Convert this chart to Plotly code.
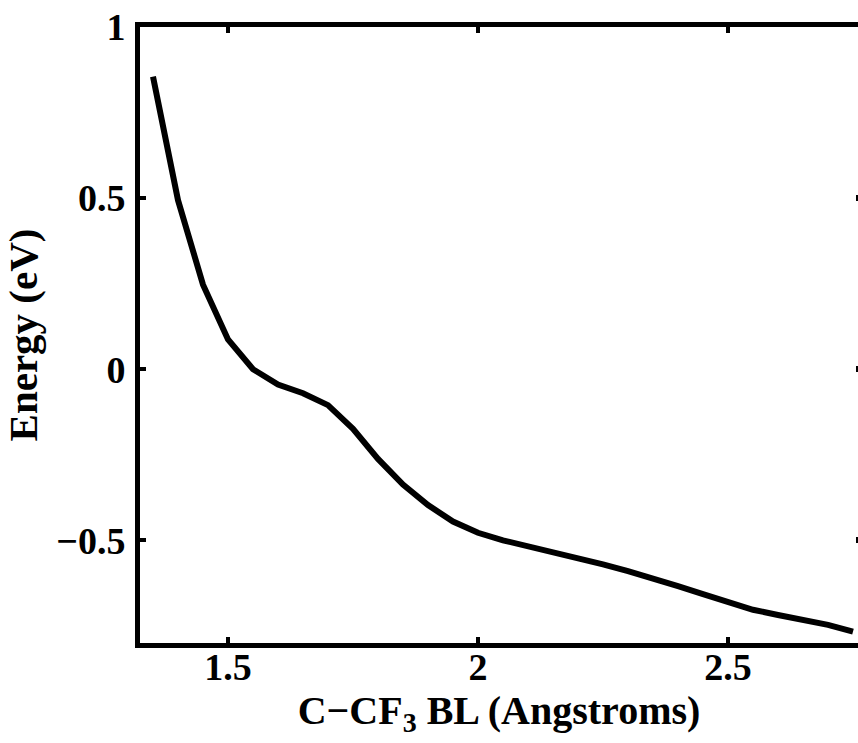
import plotly.graph_objects as go

bond_length = [1.35, 1.40, 1.45, 1.50, 1.55, 1.60, 1.65, 1.70, 1.75, 1.80,
               1.85, 1.90, 1.95, 2.00, 2.05, 2.10, 2.15, 2.20, 2.25, 2.30,
               2.35, 2.40, 2.45, 2.50, 2.55, 2.60, 2.65, 2.70, 2.75]
energy = [0.855, 0.494, 0.247, 0.087, 0.000, -0.045, -0.070, -0.105, -0.174, -0.262,
          -0.337, -0.397, -0.445, -0.478, -0.500, -0.517, -0.532, -0.550, -0.570, -0.590,
          -0.610, -0.634, -0.657, -0.678, -0.703, -0.718, -0.733, -0.747, -0.767]

x_ticks = [1.5, 2, 2.5]
x_tick_labels = ["1.5", "2", "2.5"]
y_ticks = [-0.5, 0, 0.5, 1]
y_tick_labels = ["\u22120.5", "0", "0.5", "1"]

FONT = "Liberation Serif"

fig = go.Figure()
fig.add_trace(go.Scatter(x=bond_length, y=energy, mode="lines",
                         line=dict(color="black", width=6), showlegend=False))
# invisible trace for right-side ticks
fig.add_trace(go.Scatter(x=bond_length, y=energy, mode="lines", yaxis="y2",
                         line=dict(color="rgba(0,0,0,0)", width=0), showlegend=False,
                         hoverinfo="skip"))

fig.update_layout(
    width=858, height=743,
    margin=dict(l=140, r=0, t=27, b=100),
    plot_bgcolor="white", paper_bgcolor="white",
    font=dict(family=FONT, color="black", size=38, weight="bold"),
    xaxis=dict(
        range=[1.324, 2.76], showgrid=False, zeroline=False,
        showline=True, linecolor="black", linewidth=5, mirror="ticks",
        ticks="inside", ticklen=6, tickwidth=4, tickcolor="black",
        tickvals=x_ticks, ticktext=x_tick_labels, ticklabelstandoff=-14,
        tickfont=dict(family=FONT, size=38, weight="bold"),
        title=dict(text="C\u2212CF<sub>3</sub> BL (Angstroms)", standoff=2,
                   font=dict(family=FONT, size=40, weight="bold")),
    ),
    yaxis=dict(
        range=[-0.8, 1], showgrid=False, zeroline=False,
        showline=True, linecolor="black", linewidth=5, mirror=False,
        ticks="inside", ticklen=6, tickwidth=4, tickcolor="black",
        tickvals=y_ticks, ticktext=y_tick_labels, ticklabelstandoff=2,
        tickfont=dict(family=FONT, size=38, weight="bold"),
        title=dict(text="Energy (eV)", standoff=14,
                   font=dict(family=FONT, size=41, weight="bold")),
    ),
    yaxis2=dict(
        overlaying="y", side="right", matches="y", range=[-0.8, 1],
        showgrid=False, zeroline=False, showline=False,
        ticks="inside", ticklen=2, tickwidth=6, tickcolor="black",
        tickvals=[-0.5, 0, 0.5], showticklabels=False,
    ),
)

fig.write_html("out.html", post_script="document.body.style.margin='0';",
               config={"displayModeBar": False})
